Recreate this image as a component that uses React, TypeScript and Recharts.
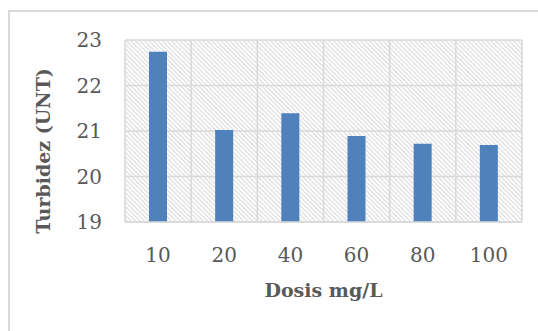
import React from 'react';
import { BarChart, Bar, XAxis, YAxis, CartesianGrid } from 'recharts';

const categories = ['10', '20', '40', '60', '80', '100'];
const turbidity = [22.74, 21.02, 21.39, 20.89, 20.72, 20.69];
const yTicks = [19, 20, 21, 22, 23];

const data = categories.map((c, i) => ({ dose: c, value: turbidity[i] }));

const tickStyle = { fontFamily: "'DejaVu Serif', serif", fontSize: 20, fill: '#595959' };
const labelStyle = { fontFamily: "'DejaVu Serif', serif", fontSize: 19, fontWeight: 700, fill: '#595959' };

export default function App() {
  return (
    <div style={{ position: 'absolute', left: 0, top: 0, width: 538, height: 331, overflow: 'hidden', background: '#fff' }}>
      <div style={{ position: 'absolute', left: 8, top: 10, width: 560, height: 360, border: '2px solid #d9d9d9', boxSizing: 'border-box' }} />
      <div style={{ position: 'absolute', left: 0, top: 0 }}>
        <BarChart width={538} height={331} data={data} margin={{ top: 40, right: 16, bottom: 0, left: 0 }}>
          <defs>
            <pattern id="hatch" patternUnits="userSpaceOnUse" width="4.5" height="4.5">
              <rect width="4.5" height="4.5" fill="#ffffff" />
              <path d="M-1,-1 L5.5,5.5 M-1,3.5 L1,5.5 M3.5,-1 L5.5,1" stroke="#dcdcdc" strokeWidth="1.2" />
            </pattern>
          </defs>
          <CartesianGrid
            stroke="#d9d9d9"
            strokeWidth={1.5}
            fill="url(#hatch)"
            fillOpacity={1}
            verticalCoordinatesGenerator={(props: any) => {
              const off = props.offset;
              return categories.map((_, i) => off.left + (i * off.width) / categories.length).concat([off.left + off.width]);
            }}
          />
          <XAxis
            dataKey="dose"
            tickLine={false}
            axisLine={{ stroke: '#d9d9d9', strokeWidth: 1.5 }}
            tickSize={0}
            tickMargin={26}
            tick={tickStyle}
            height={109}
            label={{
              content: (p: any) => {
                const vb = p.viewBox;
                return (
                  <text x={vb.x + vb.width / 2} y={297} textAnchor="middle" style={labelStyle}>
                    Dosis mg/L
                  </text>
                );
              },
            }}
          />
          <YAxis
            domain={[19, 23]}
            ticks={yTicks}
            interval={0}
            axisLine={false}
            tickLine={false}
            tickSize={0}
            tickMargin={23}
            width={125}
            tick={tickStyle}
            label={{
              content: () => (
                <text x={43} y={151} transform="rotate(-90 43 151)" textAnchor="middle" dominantBaseline="central" style={labelStyle}>
                  Turbidez (UNT)
                </text>
              ),
            }}
          />
          <Bar dataKey="value" fill="#4f81bd" barSize={18} isAnimationActive={false} />
        </BarChart>
      </div>
    </div>
  );
}
